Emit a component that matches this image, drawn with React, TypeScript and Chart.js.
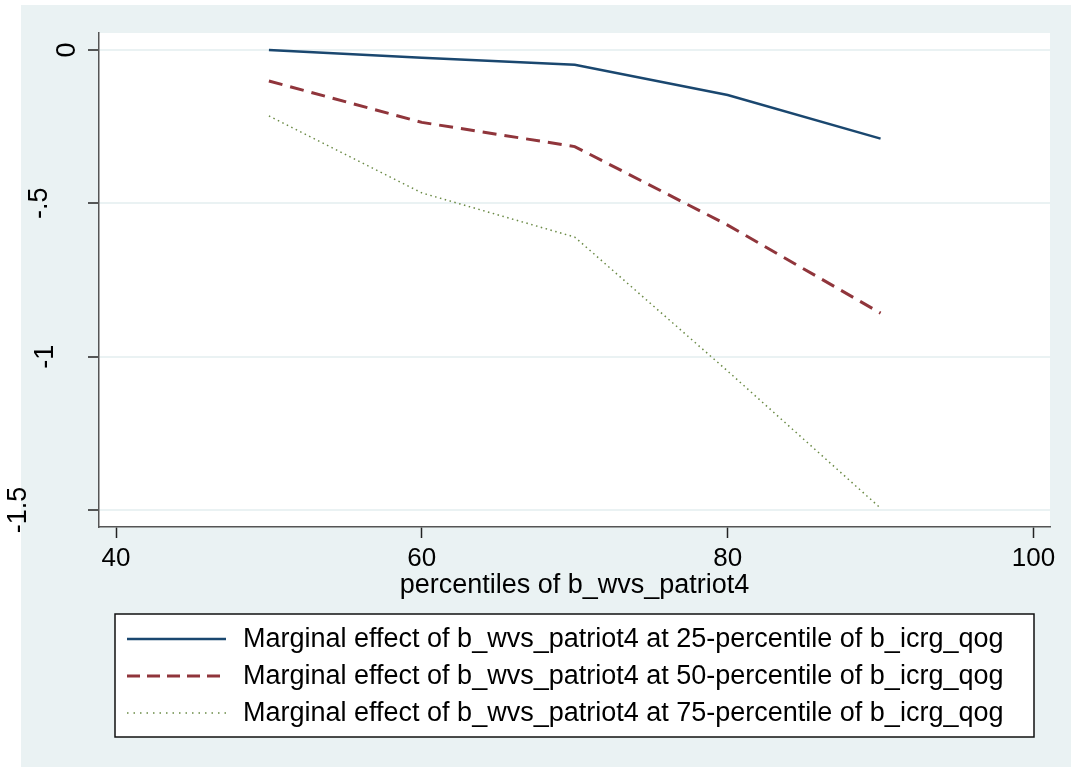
import { useEffect, useRef } from 'react';
import { Chart, registerables } from 'chart.js';

Chart.register(...registerables);

// Percentile grid of b_wvs_patriot4 at which the marginal effects were evaluated
const percentiles = [50, 60, 70, 80, 90];

// Marginal effect of b_wvs_patriot4 at three percentiles of b_icrg_qog
const effectAt25 = [0.0, -0.025, -0.048, -0.147, -0.289];
const effectAt50 = [-0.101, -0.236, -0.315, -0.571, -0.858];
const effectAt75 = [-0.215, -0.466, -0.61, -1.047, -1.494];

const seriesLabels = [
  'Marginal effect of b_wvs_patriot4 at 25-percentile of b_icrg_qog',
  'Marginal effect of b_wvs_patriot4 at 50-percentile of b_icrg_qog',
  'Marginal effect of b_wvs_patriot4 at 75-percentile of b_icrg_qog',
];

const xTicks = [40, 60, 80, 100];
const yTicks = [0, -0.5, -1, -1.5];
const yTickText = ['0', '-.5', '-1', '-1.5'];
const xTitle = 'percentiles of b_wvs_patriot4';

const FONT = '"Liberation Sans", Arial, Helvetica, sans-serif';
const GRAPH_BG = '#eaf2f3';
const W = 1071;
const H = 767;

// Horizontal centres of the rotated y-axis labels, in tick order
const yLabelCentres = [68, 40, 45.5, 19];

const backgroundPlugin = {
  id: 'graphBackground',
  beforeDraw(chart: any) {
    const { ctx, width, height, chartArea } = chart;
    ctx.save();
    ctx.fillStyle = '#ffffff';
    ctx.fillRect(0, 0, width, height);
    ctx.fillStyle = GRAPH_BG;
    ctx.fillRect(21, 5, width - 21, height - 5);
    ctx.fillStyle = '#ffffff';
    ctx.fillRect(
      chartArea.left,
      chartArea.top,
      chartArea.right - chartArea.left,
      chartArea.bottom - chartArea.top
    );
    ctx.restore();
  },
};

const rotatedYLabels = {
  id: 'rotatedYLabels',
  afterDraw(chart: any) {
    const scale = chart.scales.y;
    const ctx = chart.ctx;
    ctx.save();
    ctx.font = `27px ${FONT}`;
    ctx.fillStyle = '#000000';
    ctx.textAlign = 'center';
    ctx.textBaseline = 'middle';
    yTicks.forEach((v, i) => {
      const py = scale.getPixelForValue(v);
      ctx.save();
      ctx.translate(yLabelCentres[i], py);
      ctx.rotate(-Math.PI / 2);
      ctx.fillText(yTickText[i], 0, 0);
      ctx.restore();
    });
    ctx.restore();
  },
};

const boxedLegend = {
  id: 'boxedLegend',
  afterDraw(chart: any) {
    const ctx = chart.ctx;
    const box = { left: 115, top: 614, right: 1034, bottom: 737 };
    const sampleStart = 127;
    const sampleEnd = 226;
    const textX = 243;
    const firstRow = 639;
    const rowStep = 37;
    ctx.save();
    ctx.fillStyle = '#ffffff';
    ctx.fillRect(box.left, box.top, box.right - box.left, box.bottom - box.top);
    ctx.strokeStyle = '#111111';
    ctx.lineWidth = 1.5;
    ctx.strokeRect(box.left, box.top, box.right - box.left, box.bottom - box.top);
    chart.data.datasets.forEach((ds: any, i: number) => {
      const y = firstRow + i * rowStep;
      ctx.save();
      ctx.strokeStyle = ds.borderColor;
      ctx.lineWidth = ds.borderWidth;
      ctx.setLineDash(ds.legendDash || []);
      ctx.beginPath();
      ctx.moveTo(sampleStart, y);
      ctx.lineTo(sampleEnd, y);
      ctx.stroke();
      ctx.restore();
      ctx.font = `27px ${FONT}`;
      ctx.fillStyle = '#000000';
      ctx.textAlign = 'left';
      ctx.textBaseline = 'middle';
      ctx.fillText(ds.label, textX, y + 1);
    });
    ctx.restore();
  },
};

export default function App() {
  const canvasRef = useRef<HTMLCanvasElement | null>(null);

  useEffect(() => {
    if (!canvasRef.current) return;
    const chart = new Chart(canvasRef.current, {
      type: 'line',
      data: {
        datasets: [
          {
            label: seriesLabels[0],
            data: percentiles.map((x, i) => ({ x, y: effectAt25[i] })),
            borderColor: '#1a476f',
            borderWidth: 2.5,
            legendDash: [],
          } as any,
          {
            label: seriesLabels[1],
            data: percentiles.map((x, i) => ({ x, y: effectAt50[i] })),
            borderColor: '#90353b',
            borderWidth: 3,
            borderDash: [14, 8],
            legendDash: [13, 7],
          } as any,
          {
            label: seriesLabels[2],
            data: percentiles.map((x, i) => ({ x, y: effectAt75[i] })),
            borderColor: '#6a8a45',
            borderWidth: 1.5,
            borderDash: [1.5, 3.5],
            legendDash: [1.5, 5],
          } as any,
        ],
      },
      options: {
        responsive: false,
        animation: false,
        layout: { padding: { top: 33, right: 21, left: 0, bottom: 160 } },
        elements: { point: { radius: 0 }, line: { tension: 0 } },
        plugins: {
          legend: { display: false },
          tooltip: { enabled: false },
        },
        scales: {
          x: {
            type: 'linear',
            min: 38.888,
            max: 101.08,
            afterBuildTicks: (s: any) => {
              s.ticks = xTicks.map((value) => ({ value }));
            },
            afterFit: (s: any) => {
              s.height = 80;
            },
            grid: {
              display: true,
              drawOnChartArea: false,
              drawTicks: true,
              tickLength: 11,
              tickColor: '#222222',
              tickWidth: 1.5,
            },
            border: { display: true, color: '#555555', width: 1.5 },
            ticks: {
              color: '#000000',
              font: { family: FONT, size: 26 },
              padding: 5,
              maxRotation: 0,
              autoSkip: false,
              callback: (v: any) => String(v),
            },
            title: {
              display: true,
              text: xTitle,
              color: '#000000',
              font: { family: FONT, size: 27 },
              padding: { top: 0, bottom: 5 },
            },
          },
          y: {
            type: 'linear',
            min: -1.5554,
            max: 0.0554,
            afterBuildTicks: (s: any) => {
              s.ticks = yTicks.map((value) => ({ value }));
            },
            afterFit: (s: any) => {
              s.width = 99;
            },
            grid: {
              display: true,
              drawOnChartArea: true,
              color: GRAPH_BG,
              lineWidth: 2,
              drawTicks: true,
              tickLength: 11,
              tickColor: '#222222',
              tickWidth: 1.5,
            },
            border: { display: true, color: '#555555', width: 1.5 },
            ticks: { display: false },
          },
        },
      },
      plugins: [backgroundPlugin, rotatedYLabels, boxedLegend],
    });
    return () => chart.destroy();
  }, []);

  return (
    <div style={{ position: 'fixed', left: 0, top: 0, width: W, height: H }}>
      <canvas ref={canvasRef} width={W} height={H} style={{ display: 'block' }} />
    </div>
  );
}
